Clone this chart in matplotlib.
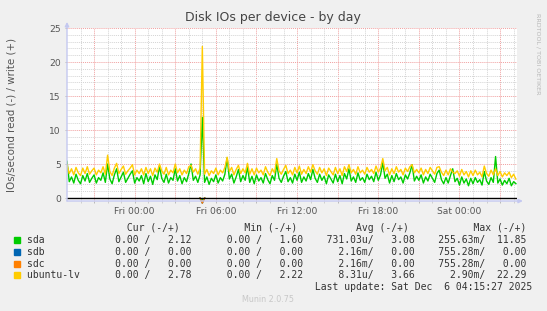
import numpy as np
from matplotlib import pyplot as plt
from matplotlib.patches import Rectangle

W, H = 547, 311

# samples every 10 minutes, first one Thu 19:00 (hours relative to Fri 00:00)
t_start = -5.0
t_step = 1.0 / 6

# write IOs/s (positive side), rows of 2 hours
sda_write = [
    5.4, 2.4, 3.1, 2.2, 3.5, 2.6, 2.1, 3.3, 2.5, 3.6, 2.3, 2.9,
    3.4, 2.2, 3.0, 2.6, 3.7, 2.3, 5.0, 2.8, 2.1, 3.4, 4.3, 2.4,
    3.1, 3.8, 2.3, 2.9, 3.5, 4.0, 2.2, 3.0, 2.5, 3.3, 2.1, 3.6,
    2.4, 3.2, 2.0, 3.4, 2.7, 4.7, 2.9, 2.3, 3.5, 2.2, 3.0, 2.6,
    4.3, 2.5, 3.3, 2.1, 3.0, 2.4, 3.6, 5.0, 2.6, 3.2, 2.3, 3.4,
    11.85, 2.3, 3.1, 2.0, 2.9, 2.4, 3.4, 2.2, 3.0, 2.5, 3.5, 5.9,
    2.8, 3.5, 2.2, 3.1, 4.2, 2.4, 3.3, 2.6, 4.6, 2.3, 3.2, 2.1,
    3.4, 2.5, 3.0, 2.2, 3.6, 2.7, 2.1, 3.3, 2.6, 5.0, 2.9, 2.3,
    3.2, 3.9, 2.4, 3.0, 2.2, 3.5, 2.6, 3.8, 2.3, 3.1, 2.5, 3.6,
    2.7, 4.2, 2.9, 2.3, 3.5, 2.6, 3.2, 2.1, 3.4, 2.8, 2.2, 3.5,
    2.4, 3.3, 2.1, 3.6, 2.8, 4.3, 2.5, 3.1, 2.3, 3.7, 2.6, 3.0,
    2.3, 3.5, 2.7, 3.2, 2.4, 3.8, 2.6, 3.4, 5.2, 2.9, 3.5, 2.2,
    3.3, 2.4, 3.6, 2.7, 3.1, 2.2, 3.4, 2.8, 3.7, 4.9, 2.5, 3.2,
    2.6, 3.4, 2.2, 3.1, 2.5, 3.5, 2.9, 2.3, 3.6, 4.1, 2.7, 2.1,
    3.0, 2.2, 3.3, 4.3, 2.4, 2.9, 1.9, 3.1, 2.2, 2.8, 1.8, 2.9,
    2.1, 3.0, 2.3, 2.7, 1.9, 3.9, 2.5, 2.0, 3.0, 2.3, 6.1, 2.2,
    2.8, 1.9, 2.6, 2.1, 2.9, 1.8, 2.4, 2.12,
]
ubuntu_write = [
    4.9, 3.6, 4.3, 3.4, 4.5, 3.7, 3.3, 4.4, 3.6, 4.6, 3.5, 4.0,
    4.4, 3.4, 4.1, 3.7, 4.6, 3.5, 6.3, 3.9, 3.3, 4.4, 5.1, 3.6,
    4.2, 4.7, 3.5, 4.0, 4.4, 4.9, 3.4, 4.1, 3.6, 4.3, 3.4, 4.5,
    3.6, 4.3, 3.3, 4.4, 3.8, 5.0, 4.0, 3.5, 4.5, 3.4, 4.1, 3.7,
    5.0, 3.7, 4.3, 3.4, 4.1, 3.6, 4.6, 4.8, 3.8, 4.3, 3.5, 4.4,
    22.29, 3.5, 4.2, 3.3, 4.0, 3.6, 4.4, 3.4, 4.1, 3.7, 4.5, 6.0,
    3.9, 4.5, 3.4, 4.2, 4.8, 3.6, 4.3, 3.7, 5.1, 3.5, 4.3, 3.4,
    4.4, 3.7, 4.1, 3.4, 4.6, 3.8, 3.3, 4.3, 3.7, 5.8, 4.0, 3.5,
    4.2, 4.8, 3.6, 4.1, 3.4, 4.5, 3.7, 4.7, 3.5, 4.2, 3.6, 4.6,
    3.8, 4.9, 4.0, 3.5, 4.5, 3.7, 4.3, 3.3, 4.4, 3.9, 3.4, 4.5,
    3.6, 4.3, 3.3, 4.6, 3.9, 4.9, 3.7, 4.2, 3.5, 4.6, 3.7, 4.1,
    3.5, 4.5, 3.8, 4.2, 3.6, 4.7, 3.8, 4.4, 5.8, 4.0, 4.5, 3.4,
    4.3, 3.6, 4.6, 3.8, 4.2, 3.4, 4.4, 3.9, 4.6, 4.9, 3.7, 4.2,
    3.7, 4.4, 3.4, 4.2, 3.6, 4.5, 4.0, 3.5, 4.5, 4.6, 3.8, 3.3,
    4.1, 3.4, 4.3, 3.8, 3.6, 4.0, 3.2, 4.2, 3.4, 3.9, 3.1, 4.0,
    3.3, 4.1, 3.4, 3.8, 3.1, 4.7, 3.6, 3.2, 4.1, 3.4, 4.3, 3.3,
    3.9, 3.1, 3.7, 3.3, 3.8, 3.0, 3.5, 2.78,
]

# read IOs/s (drawn below zero), only the spike near Fri 05:00 shows
read_t = [4.83, 5.0, 5.17]
sda_read = [0.0, 0.256, 0.0]
sdb_read = [0.0, 0.755, 0.0]
sdc_read = [0.0, 0.755, 0.0]

xtick_pos = [0, 6, 12, 18, 24]
xtick_labels = ['Fri 00:00', 'Fri 06:00', 'Fri 12:00', 'Fri 18:00', 'Sat 00:00']
ytick_pos = [0, 5, 10, 15, 20, 25]

# legend table
names = ['sda', 'sdb', 'sdc', 'ubuntu-lv']
colors = ['#00cc00', '#0066b3', '#ff8000', '#ffcc00']
cur_read = ['0.00', '0.00', '0.00', '0.00']
cur_write = ['2.12', '0.00', '0.00', '2.78']
min_read = ['0.00', '0.00', '0.00', '0.00']
min_write = ['1.60', '0.00', '0.00', '2.22']
avg_read = ['731.03u', '2.16m', '2.16m', '8.31u']
avg_write = ['3.08', '0.00', '0.00', '3.66']
max_read = ['255.63m', '755.28m', '755.28m', '2.90m']
max_write = ['11.85', '0.00', '0.00', '22.29']


def px(x, y):
    return x / W, 1 - y / H


def fmt(s):
    # munin style "%6.2lf%s"
    if s[-1].isalpha():
        return s[:-1].rjust(6) + s[-1]
    return s.rjust(6) + ' '


fig = plt.figure(figsize=(W / 100, H / 100), dpi=100)
fig.patch.set_facecolor('#f0f0f0')

left, top = px(67, 28)
right, bottom = px(517, 201)
ax = fig.add_axes([left, bottom, right - left, top - bottom])
ax.set_facecolor('white')
for s in ax.spines.values():
    s.set_visible(False)

t = t_start + t_step * np.arange(len(sda_write))
ax.set_xlim(-5.0, 28.25)
ax.set_ylim(-0.44, 25)

# grid
ax.set_xticks(np.arange(-3, 28, 3))
ax.set_xticks(np.arange(-4, 29, 1), minor=True)
ax.set_xticklabels([xtick_labels[xtick_pos.index(v)] if v in xtick_pos else ''
                    for v in range(-3, 28, 3)])
ax.set_yticks(ytick_pos)
ax.set_yticks(np.arange(1, 25, 1), minor=True)
ax.grid(which='minor', color='#d4d4d4', linestyle=(0, (1, 1)), lw=0.7)
ax.grid(which='major', color='#f0a0a0', linestyle=(0, (1, 1)), lw=0.7)
ax.set_axisbelow(True)
ax.tick_params(which='major', length=1.5, width=0.6, color='#b0b0b0',
               labelsize=6.6, labelcolor='#555555', pad=3)
ax.tick_params(which='minor', length=1.2, width=0.6, color='#c8c8c8')
ax.tick_params(axis='y', which='minor', length=0)

# series
ax.plot(read_t, -np.array(sda_read), color=colors[0], lw=1.0, clip_on=False)
ax.plot(read_t, -np.array(sdb_read), color=colors[1], lw=1.0, clip_on=False)
ax.plot(read_t, -np.array(sdc_read), color=colors[2], lw=1.0, clip_on=False)
ax.plot(t, sda_write, color=colors[0], lw=1.0)
ax.plot(t, ubuntu_write, color=colors[3], lw=1.0)
ax.axhline(0, color='black', lw=1.0)

# axis arrows
arrow = dict(arrowstyle='-|>', color='#c4c8f0', lw=1.0, mutation_scale=6,
             shrinkA=0, shrinkB=0)
ax.annotate('', xy=(0, 1.035), xytext=(0, 0), xycoords='axes fraction',
            arrowprops=arrow, annotation_clip=False)
ax.annotate('', xy=(1.013, 0), xytext=(0, 0), xycoords='axes fraction',
            arrowprops=arrow, annotation_clip=False)

# texts
fig.text(*px(273, 18), 'Disk IOs per device - by day', ha='center', va='center',
         fontsize=9, color='#444444')
fig.text(*px(12, 114.5), 'IOs/second read (-) / write (+)', rotation=90,
         ha='center', va='center', fontsize=7.4, color='#555555')
fig.text(*px(538, 54), 'RRDTOOL / TOBI OETIKER', rotation=270, ha='center',
         va='center', fontsize=4.6, color='#b8b8b8')

mono = dict(family='DejaVu Sans Mono', fontsize=7.0, color='#333333',
            va='center', ha='left')
x0 = 26.7
header = (' ' * 17 + 'Cur (-/+)' + ' ' * 11 + 'Min (-/+)' + ' ' * 10
          + 'Avg (-/+)' + ' ' * 11 + 'Max (-/+)')
fig.text(*px(x0, 228), header, **mono)
for i in range(len(names)):
    blocks = [fmt(a) + '/ ' + fmt(b) for a, b in [
        (cur_read[i], cur_write[i]), (min_read[i], min_write[i]),
        (avg_read[i], avg_write[i]), (max_read[i], max_write[i])]]
    row_y = 240 + i * 11.8
    fig.text(*px(x0, row_y), names[i].ljust(13) + '   '.join(blocks), **mono)
    fig.add_artist(Rectangle(px(14, row_y + 3), 6 / W, 6 / H, color=colors[i],
                             transform=fig.transFigure))
fig.text(*px(x0, 287), ' ' * 49 + 'Last update: Sat Dec  6 04:15:27 2025', **mono)
fig.text(*px(268, 299.5), 'Munin 2.0.75', ha='center', va='center',
         fontsize=5.8, color='#c8c8c8')

fig.savefig('out.png', dpi=100, facecolor=fig.get_facecolor())
